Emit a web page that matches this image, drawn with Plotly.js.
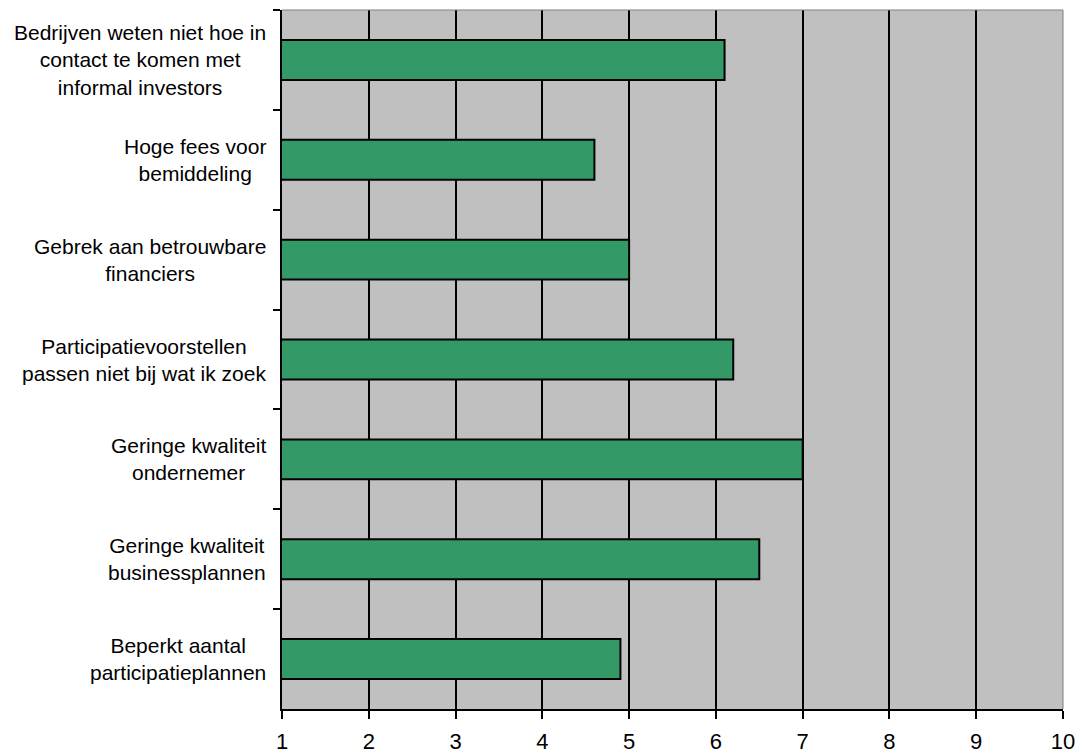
<!DOCTYPE html>
<html>
<head>
<meta charset="utf-8">
<script src="https://cdn.plot.ly/plotly-3.0.1.min.js"></script>
<style>html,body{margin:0;padding:0;background:#fff;}#chart{width:1082px;height:753px;}</style>
</head>
<body>
<div id="chart"></div>
<script>
const categories = [
  "Bedrijven weten niet hoe in<br>contact te komen met<br>informal investors",
  "Hoge fees voor<br>bemiddeling",
  "Gebrek aan betrouwbare<br>financiers",
  "Participatievoorstellen<br>passen niet bij wat ik zoek",
  "Geringe kwaliteit<br>ondernemer",
  "Geringe kwaliteit<br>businessplannen",
  "Beperkt aantal<br>participatieplannen"
];
const values = [6.1, 4.6, 5.0, 6.2, 7.0, 6.5, 4.9];
const xTicks = [1, 2, 3, 4, 5, 6, 7, 8, 9, 10];
const gridTicks = [2, 3, 4, 5, 6, 7, 8, 9];

const FONT = "Liberation Sans, Arial, sans-serif";

const axisHolder = {
  type: "scatter", mode: "markers",
  x: [null], y: [categories[0]],
  xaxis: "x", yaxis: "y",
  hoverinfo: "skip", showlegend: false
};

const trace = {
  type: "bar",
  orientation: "h",
  y: categories,
  x: values,
  xaxis: "x2",
  yaxis: "y",
  marker: {color: "#339966", line: {color: "#000000", width: 2}},
  hoverinfo: "skip"
};

const annotations = categories.map(c => ({
  text: c,
  xref: "paper", yref: "y",
  x: 0, y: c,
  xanchor: "right", yanchor: "middle",
  xshift: -14,
  align: "center",
  showarrow: false,
  font: {family: FONT, size: 21, color: "#000000"}
}));

const layout = {
  width: 1082, height: 753,
  margin: {l: 282, r: 19, t: 10, b: 44, pad: 0},
  paper_bgcolor: "#ffffff",
  plot_bgcolor: "#C0C0C0",
  showlegend: false,
  bargap: 0.6,
  font: {family: FONT, size: 21, color: "#000000"},
  xaxis: {
    range: [1, 10],
    tickvals: xTicks,
    ticktext: xTicks.map(String),
    ticks: "outside", ticklen: 8, tickwidth: 2, tickcolor: "#000000",
    ticklabelstandoff: 4,
    showline: true, linecolor: "#000000", linewidth: 2,
    showgrid: false, zeroline: false,
    tickfont: {family: FONT, size: 22, color: "#000000"}
  },
  xaxis2: {
    overlaying: "x", anchor: "y",
    range: [1, 10],
    tickvals: gridTicks,
    showticklabels: false, ticks: "",
    showline: false, zeroline: false,
    showgrid: true, gridcolor: "#000000", gridwidth: 2
  },
  yaxis: {
    autorange: "reversed",
    type: "category",
    tickson: "boundaries",
    ticks: "outside", ticklen: 7, tickwidth: 2, tickcolor: "#000000",
    showline: true, linecolor: "#000000", linewidth: 2,
    showgrid: false, zeroline: false,
    showticklabels: false
  },
  shapes: [
    {type: "line", xref: "paper", yref: "paper", x0: 0, x1: 1, y0: 1, y1: 1, line: {color: "#808080", width: 1}},
    {type: "line", xref: "paper", yref: "paper", x0: 1, x1: 1, y0: 0, y1: 1, line: {color: "#808080", width: 1}}
  ],
  annotations: annotations
};

Plotly.newPlot("chart", [axisHolder, trace], layout, {displayModeBar: false, staticPlot: true});
</script>
</body>
</html>
